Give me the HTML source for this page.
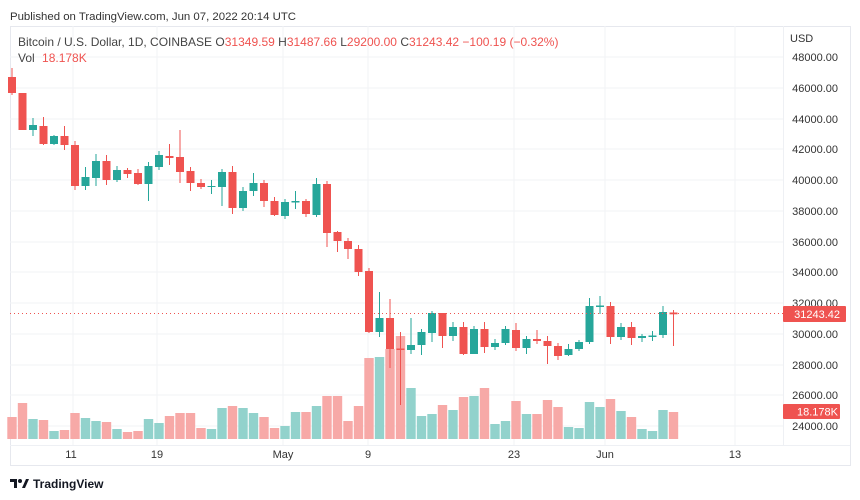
<!DOCTYPE html>
<html><head><meta charset="utf-8"><style>
body{margin:0;background:#fff;}
svg{display:block;font-family:"Liberation Sans",sans-serif;}
.r line{stroke:#ef5350;stroke-width:1}.r rect.b{fill:#ef5350}
.g line{stroke:#26a69a;stroke-width:1}.g rect.b{fill:#26a69a}
.r rect.v{fill:#f7a9a7}.g rect.v{fill:#92d2cc}
.pl{font-size:11px;fill:#333;text-anchor:end}
.tl{font-size:11px;fill:#333;text-anchor:middle}
</style></head><body>
<svg width="860" height="500" viewBox="0 0 860 500">
<rect width="860" height="500" fill="#fff"/>
<text x="10" y="20" font-size="11.4" fill="#333">Published on TradingView.com, Jun 07, 2022 20:14 UTC</text>
<rect x="10.5" y="26.5" width="840" height="439" fill="none" stroke="#e6e8ee"/>
<line x1="783.5" y1="26" x2="783.5" y2="446" stroke="#eef0f4"/>
<line x1="10" y1="445.5" x2="850" y2="445.5" stroke="#eef0f4"/>
<g stroke="#f2f3f6">
<line x1="10" x2="783" y1="57" y2="57"/><line x1="10" x2="783" y1="88" y2="88"/><line x1="10" x2="783" y1="119" y2="119"/><line x1="10" x2="783" y1="149" y2="149"/><line x1="10" x2="783" y1="180" y2="180"/><line x1="10" x2="783" y1="211" y2="211"/><line x1="10" x2="783" y1="242" y2="242"/><line x1="10" x2="783" y1="272" y2="272"/><line x1="10" x2="783" y1="303" y2="303"/><line x1="10" x2="783" y1="334" y2="334"/><line x1="10" x2="783" y1="365" y2="365"/><line x1="10" x2="783" y1="395" y2="395"/><line x1="10" x2="783" y1="426" y2="426"/>
<line y1="26" y2="445" x1="73" x2="73"/><line y1="26" y2="445" x1="157" x2="157"/><line y1="26" y2="445" x1="283" x2="283"/><line y1="26" y2="445" x1="368" x2="368"/><line y1="26" y2="445" x1="514" x2="514"/><line y1="26" y2="445" x1="605" x2="605"/><line y1="26" y2="445" x1="735" x2="735"/>
</g>
<text x="18" y="46" font-size="12" fill="#444">Bitcoin / U.S. Dollar, 1D, COINBASE <tspan>O</tspan><tspan fill="#ef5350">31349.59</tspan> <tspan>H</tspan><tspan fill="#ef5350">31487.66</tspan> <tspan>L</tspan><tspan fill="#ef5350">29200.00</tspan> <tspan>C</tspan><tspan fill="#ef5350">31243.42</tspan> <tspan fill="#ef5350">−100.19 (−0.32%)</tspan></text>
<text x="18" y="62" font-size="12" fill="#444">Vol <tspan dx="4" fill="#ef5350">18.178K</tspan></text>
<text x="790" y="42" font-size="11" fill="#333">USD</text>
<text class="pl" x="838" y="61">48000.00</text><text class="pl" x="838" y="92">46000.00</text><text class="pl" x="838" y="123">44000.00</text><text class="pl" x="838" y="153">42000.00</text><text class="pl" x="838" y="184">40000.00</text><text class="pl" x="838" y="215">38000.00</text><text class="pl" x="838" y="246">36000.00</text><text class="pl" x="838" y="276">34000.00</text><text class="pl" x="838" y="307">32000.00</text><text class="pl" x="838" y="338">30000.00</text><text class="pl" x="838" y="369">28000.00</text><text class="pl" x="838" y="399">26000.00</text><text class="pl" x="838" y="430">24000.00</text>
<text class="tl" x="71" y="458">11</text><text class="tl" x="157" y="458">19</text><text class="tl" x="283" y="458">May</text><text class="tl" x="368" y="458">9</text><text class="tl" x="514" y="458">23</text><text class="tl" x="605" y="458">Jun</text><text class="tl" x="735" y="458">13</text>
<g>
<g class="r" transform="translate(12,0)"><rect class="v" x="-4.7" width="9.4" y="417" height="22"/></g>
<g class="r" transform="translate(22.5,0)"><rect class="v" x="-4.7" width="9.4" y="403" height="36"/></g>
<g class="g" transform="translate(33,0)"><rect class="v" x="-4.7" width="9.4" y="419" height="20"/></g>
<g class="r" transform="translate(43.5,0)"><rect class="v" x="-4.7" width="9.4" y="420" height="19"/></g>
<g class="g" transform="translate(54,0)"><rect class="v" x="-4.7" width="9.4" y="431" height="8"/></g>
<g class="r" transform="translate(64.5,0)"><rect class="v" x="-4.7" width="9.4" y="430" height="9"/></g>
<g class="r" transform="translate(75,0)"><rect class="v" x="-4.7" width="9.4" y="413" height="26"/></g>
<g class="g" transform="translate(85.5,0)"><rect class="v" x="-4.7" width="9.4" y="418" height="21"/></g>
<g class="g" transform="translate(96,0)"><rect class="v" x="-4.7" width="9.4" y="421" height="18"/></g>
<g class="r" transform="translate(106.5,0)"><rect class="v" x="-4.7" width="9.4" y="422" height="17"/></g>
<g class="g" transform="translate(117,0)"><rect class="v" x="-4.7" width="9.4" y="429" height="10"/></g>
<g class="r" transform="translate(127.5,0)"><rect class="v" x="-4.7" width="9.4" y="432" height="7"/></g>
<g class="r" transform="translate(138,0)"><rect class="v" x="-4.7" width="9.4" y="431" height="8"/></g>
<g class="g" transform="translate(148.5,0)"><rect class="v" x="-4.7" width="9.4" y="419" height="20"/></g>
<g class="g" transform="translate(159,0)"><rect class="v" x="-4.7" width="9.4" y="423" height="16"/></g>
<g class="r" transform="translate(169.5,0)"><rect class="v" x="-4.7" width="9.4" y="416" height="23"/></g>
<g class="r" transform="translate(180,0)"><rect class="v" x="-4.7" width="9.4" y="413" height="26"/></g>
<g class="r" transform="translate(190.5,0)"><rect class="v" x="-4.7" width="9.4" y="413" height="26"/></g>
<g class="r" transform="translate(201,0)"><rect class="v" x="-4.7" width="9.4" y="428" height="11"/></g>
<g class="g" transform="translate(211.5,0)"><rect class="v" x="-4.7" width="9.4" y="429" height="10"/></g>
<g class="g" transform="translate(222,0)"><rect class="v" x="-4.7" width="9.4" y="408" height="31"/></g>
<g class="r" transform="translate(232.5,0)"><rect class="v" x="-4.7" width="9.4" y="406" height="33"/></g>
<g class="g" transform="translate(243,0)"><rect class="v" x="-4.7" width="9.4" y="408" height="31"/></g>
<g class="g" transform="translate(253.5,0)"><rect class="v" x="-4.7" width="9.4" y="413" height="26"/></g>
<g class="r" transform="translate(264,0)"><rect class="v" x="-4.7" width="9.4" y="417" height="22"/></g>
<g class="r" transform="translate(274.5,0)"><rect class="v" x="-4.7" width="9.4" y="428" height="11"/></g>
<g class="g" transform="translate(285,0)"><rect class="v" x="-4.7" width="9.4" y="426" height="13"/></g>
<g class="g" transform="translate(295.5,0)"><rect class="v" x="-4.7" width="9.4" y="412" height="27"/></g>
<g class="r" transform="translate(306,0)"><rect class="v" x="-4.7" width="9.4" y="412" height="27"/></g>
<g class="g" transform="translate(316.5,0)"><rect class="v" x="-4.7" width="9.4" y="406" height="33"/></g>
<g class="r" transform="translate(327,0)"><rect class="v" x="-4.7" width="9.4" y="396" height="43"/></g>
<g class="r" transform="translate(337.5,0)"><rect class="v" x="-4.7" width="9.4" y="396" height="43"/></g>
<g class="r" transform="translate(348,0)"><rect class="v" x="-4.7" width="9.4" y="421" height="18"/></g>
<g class="r" transform="translate(358.5,0)"><rect class="v" x="-4.7" width="9.4" y="406" height="33"/></g>
<g class="r" transform="translate(369,0)"><rect class="v" x="-4.7" width="9.4" y="358" height="81"/></g>
<g class="g" transform="translate(379.5,0)"><rect class="v" x="-4.7" width="9.4" y="357" height="82"/></g>
<g class="r" transform="translate(390,0)"><rect class="v" x="-4.7" width="9.4" y="349" height="90"/></g>
<g class="r" transform="translate(400.5,0)"><rect class="v" x="-4.7" width="9.4" y="336" height="103"/></g>
<g class="g" transform="translate(411,0)"><rect class="v" x="-4.7" width="9.4" y="388" height="51"/></g>
<g class="g" transform="translate(421.5,0)"><rect class="v" x="-4.7" width="9.4" y="416" height="23"/></g>
<g class="g" transform="translate(432,0)"><rect class="v" x="-4.7" width="9.4" y="414" height="25"/></g>
<g class="r" transform="translate(442.5,0)"><rect class="v" x="-4.7" width="9.4" y="405" height="34"/></g>
<g class="g" transform="translate(453,0)"><rect class="v" x="-4.7" width="9.4" y="410" height="29"/></g>
<g class="r" transform="translate(463.5,0)"><rect class="v" x="-4.7" width="9.4" y="397" height="42"/></g>
<g class="g" transform="translate(474,0)"><rect class="v" x="-4.7" width="9.4" y="396" height="43"/></g>
<g class="r" transform="translate(484.5,0)"><rect class="v" x="-4.7" width="9.4" y="388" height="51"/></g>
<g class="g" transform="translate(495,0)"><rect class="v" x="-4.7" width="9.4" y="424" height="15"/></g>
<g class="g" transform="translate(505.5,0)"><rect class="v" x="-4.7" width="9.4" y="421" height="18"/></g>
<g class="r" transform="translate(516,0)"><rect class="v" x="-4.7" width="9.4" y="401" height="38"/></g>
<g class="g" transform="translate(526.5,0)"><rect class="v" x="-4.7" width="9.4" y="414" height="25"/></g>
<g class="r" transform="translate(537,0)"><rect class="v" x="-4.7" width="9.4" y="414" height="25"/></g>
<g class="r" transform="translate(547.5,0)"><rect class="v" x="-4.7" width="9.4" y="400" height="39"/></g>
<g class="r" transform="translate(558,0)"><rect class="v" x="-4.7" width="9.4" y="407" height="32"/></g>
<g class="g" transform="translate(568.5,0)"><rect class="v" x="-4.7" width="9.4" y="427" height="12"/></g>
<g class="g" transform="translate(579,0)"><rect class="v" x="-4.7" width="9.4" y="428" height="11"/></g>
<g class="g" transform="translate(589.5,0)"><rect class="v" x="-4.7" width="9.4" y="402" height="37"/></g>
<g class="g" transform="translate(600,0)"><rect class="v" x="-4.7" width="9.4" y="407" height="32"/></g>
<g class="r" transform="translate(610.5,0)"><rect class="v" x="-4.7" width="9.4" y="399" height="40"/></g>
<g class="g" transform="translate(621,0)"><rect class="v" x="-4.7" width="9.4" y="411" height="28"/></g>
<g class="r" transform="translate(631.5,0)"><rect class="v" x="-4.7" width="9.4" y="417" height="22"/></g>
<g class="g" transform="translate(642,0)"><rect class="v" x="-4.7" width="9.4" y="429" height="10"/></g>
<g class="g" transform="translate(652.5,0)"><rect class="v" x="-4.7" width="9.4" y="431" height="8"/></g>
<g class="g" transform="translate(663,0)"><rect class="v" x="-4.7" width="9.4" y="410" height="29"/></g>
<g class="r" transform="translate(673.5,0)"><rect class="v" x="-4.7" width="9.4" y="412" height="27"/></g>
</g>
<g>
<g class="r" transform="translate(12,0)"><line x1="0" x2="0" y1="68" y2="95"/><rect class="b" x="-4" width="8" y="77" height="16"/></g>
<g class="r" transform="translate(22.5,0)"><line x1="0" x2="0" y1="93" y2="130"/><rect class="b" x="-4" width="8" y="93" height="37"/></g>
<g class="g" transform="translate(33,0)"><line x1="0" x2="0" y1="118" y2="136"/><rect class="b" x="-4" width="8" y="125" height="5"/></g>
<g class="r" transform="translate(43.5,0)"><line x1="0" x2="0" y1="117" y2="145"/><rect class="b" x="-4" width="8" y="126" height="18"/></g>
<g class="g" transform="translate(54,0)"><line x1="0" x2="0" y1="135" y2="145"/><rect class="b" x="-4" width="8" y="136" height="8"/></g>
<g class="r" transform="translate(64.5,0)"><line x1="0" x2="0" y1="126" y2="150"/><rect class="b" x="-4" width="8" y="136" height="9"/></g>
<g class="r" transform="translate(75,0)"><line x1="0" x2="0" y1="141" y2="190"/><rect class="b" x="-4" width="8" y="145" height="41"/></g>
<g class="g" transform="translate(85.5,0)"><line x1="0" x2="0" y1="167" y2="190"/><rect class="b" x="-4" width="8" y="177" height="9"/></g>
<g class="g" transform="translate(96,0)"><line x1="0" x2="0" y1="154" y2="186"/><rect class="b" x="-4" width="8" y="161" height="17"/></g>
<g class="r" transform="translate(106.5,0)"><line x1="0" x2="0" y1="155" y2="185"/><rect class="b" x="-4" width="8" y="161" height="19"/></g>
<g class="g" transform="translate(117,0)"><line x1="0" x2="0" y1="166" y2="182"/><rect class="b" x="-4" width="8" y="170" height="10"/></g>
<g class="r" transform="translate(127.5,0)"><line x1="0" x2="0" y1="168" y2="178"/><rect class="b" x="-4" width="8" y="170" height="4"/></g>
<g class="r" transform="translate(138,0)"><line x1="0" x2="0" y1="169" y2="185"/><rect class="b" x="-4" width="8" y="173" height="11"/></g>
<g class="g" transform="translate(148.5,0)"><line x1="0" x2="0" y1="162" y2="201"/><rect class="b" x="-4" width="8" y="166" height="18"/></g>
<g class="g" transform="translate(159,0)"><line x1="0" x2="0" y1="151" y2="170"/><rect class="b" x="-4" width="8" y="155" height="12"/></g>
<g class="r" transform="translate(169.5,0)"><line x1="0" x2="0" y1="144" y2="165"/><rect class="b" x="-4" width="8" y="156" height="2"/></g>
<g class="r" transform="translate(180,0)"><line x1="0" x2="0" y1="130" y2="183"/><rect class="b" x="-4" width="8" y="157" height="15"/></g>
<g class="r" transform="translate(190.5,0)"><line x1="0" x2="0" y1="167" y2="191"/><rect class="b" x="-4" width="8" y="171" height="12"/></g>
<g class="r" transform="translate(201,0)"><line x1="0" x2="0" y1="179" y2="189"/><rect class="b" x="-4" width="8" y="183" height="4"/></g>
<g class="g" transform="translate(211.5,0)"><line x1="0" x2="0" y1="180" y2="194"/><rect class="b" x="-4" width="8" y="186" height="1"/></g>
<g class="g" transform="translate(222,0)"><line x1="0" x2="0" y1="169" y2="206"/><rect class="b" x="-4" width="8" y="172" height="15"/></g>
<g class="r" transform="translate(232.5,0)"><line x1="0" x2="0" y1="166" y2="214"/><rect class="b" x="-4" width="8" y="172" height="36"/></g>
<g class="g" transform="translate(243,0)"><line x1="0" x2="0" y1="187" y2="211"/><rect class="b" x="-4" width="8" y="191" height="17"/></g>
<g class="g" transform="translate(253.5,0)"><line x1="0" x2="0" y1="173" y2="196"/><rect class="b" x="-4" width="8" y="183" height="8"/></g>
<g class="r" transform="translate(264,0)"><line x1="0" x2="0" y1="180" y2="207"/><rect class="b" x="-4" width="8" y="183" height="18"/></g>
<g class="r" transform="translate(274.5,0)"><line x1="0" x2="0" y1="197" y2="216"/><rect class="b" x="-4" width="8" y="201" height="14"/></g>
<g class="g" transform="translate(285,0)"><line x1="0" x2="0" y1="199" y2="219"/><rect class="b" x="-4" width="8" y="202" height="14"/></g>
<g class="g" transform="translate(295.5,0)"><line x1="0" x2="0" y1="191" y2="209"/><rect class="b" x="-4" width="8" y="201" height="1.5"/></g>
<g class="r" transform="translate(306,0)"><line x1="0" x2="0" y1="199" y2="217"/><rect class="b" x="-4" width="8" y="201" height="13"/></g>
<g class="g" transform="translate(316.5,0)"><line x1="0" x2="0" y1="178" y2="217"/><rect class="b" x="-4" width="8" y="184" height="31"/></g>
<g class="r" transform="translate(327,0)"><line x1="0" x2="0" y1="181" y2="247"/><rect class="b" x="-4" width="8" y="184" height="49"/></g>
<g class="r" transform="translate(337.5,0)"><line x1="0" x2="0" y1="231" y2="252"/><rect class="b" x="-4" width="8" y="232" height="9"/></g>
<g class="r" transform="translate(348,0)"><line x1="0" x2="0" y1="238" y2="259"/><rect class="b" x="-4" width="8" y="241" height="8"/></g>
<g class="r" transform="translate(358.5,0)"><line x1="0" x2="0" y1="245" y2="276"/><rect class="b" x="-4" width="8" y="249" height="23"/></g>
<g class="r" transform="translate(369,0)"><line x1="0" x2="0" y1="268" y2="333"/><rect class="b" x="-4" width="8" y="271" height="61"/></g>
<g class="g" transform="translate(379.5,0)"><line x1="0" x2="0" y1="292" y2="337"/><rect class="b" x="-4" width="8" y="318" height="14"/></g>
<g class="r" transform="translate(390,0)"><line x1="0" x2="0" y1="299" y2="368"/><rect class="b" x="-4" width="8" y="318" height="31"/></g>
<g class="r" transform="translate(400.5,0)"><line x1="0" x2="0" y1="332" y2="405"/><rect class="b" x="-4" width="8" y="348.5" height="1.5"/></g>
<g class="g" transform="translate(411,0)"><line x1="0" x2="0" y1="318" y2="354"/><rect class="b" x="-4" width="8" y="345" height="5"/></g>
<g class="g" transform="translate(421.5,0)"><line x1="0" x2="0" y1="329" y2="355"/><rect class="b" x="-4" width="8" y="332" height="13"/></g>
<g class="g" transform="translate(432,0)"><line x1="0" x2="0" y1="311" y2="342"/><rect class="b" x="-4" width="8" y="313" height="20"/></g>
<g class="r" transform="translate(442.5,0)"><line x1="0" x2="0" y1="313" y2="348"/><rect class="b" x="-4" width="8" y="313" height="23"/></g>
<g class="g" transform="translate(453,0)"><line x1="0" x2="0" y1="322" y2="341"/><rect class="b" x="-4" width="8" y="327" height="9"/></g>
<g class="r" transform="translate(463.5,0)"><line x1="0" x2="0" y1="322" y2="355"/><rect class="b" x="-4" width="8" y="327" height="27"/></g>
<g class="g" transform="translate(474,0)"><line x1="0" x2="0" y1="326" y2="354"/><rect class="b" x="-4" width="8" y="329" height="25"/></g>
<g class="r" transform="translate(484.5,0)"><line x1="0" x2="0" y1="322" y2="353"/><rect class="b" x="-4" width="8" y="329" height="18"/></g>
<g class="g" transform="translate(495,0)"><line x1="0" x2="0" y1="339" y2="350"/><rect class="b" x="-4" width="8" y="343" height="4"/></g>
<g class="g" transform="translate(505.5,0)"><line x1="0" x2="0" y1="326" y2="345"/><rect class="b" x="-4" width="8" y="329" height="14"/></g>
<g class="r" transform="translate(516,0)"><line x1="0" x2="0" y1="323" y2="351"/><rect class="b" x="-4" width="8" y="330" height="18"/></g>
<g class="g" transform="translate(526.5,0)"><line x1="0" x2="0" y1="336" y2="354"/><rect class="b" x="-4" width="8" y="339" height="9"/></g>
<g class="r" transform="translate(537,0)"><line x1="0" x2="0" y1="330" y2="344"/><rect class="b" x="-4" width="8" y="339" height="2"/></g>
<g class="r" transform="translate(547.5,0)"><line x1="0" x2="0" y1="336" y2="364"/><rect class="b" x="-4" width="8" y="341" height="5"/></g>
<g class="r" transform="translate(558,0)"><line x1="0" x2="0" y1="343" y2="360"/><rect class="b" x="-4" width="8" y="346" height="10"/></g>
<g class="g" transform="translate(568.5,0)"><line x1="0" x2="0" y1="344" y2="356"/><rect class="b" x="-4" width="8" y="349" height="6"/></g>
<g class="g" transform="translate(579,0)"><line x1="0" x2="0" y1="340" y2="351"/><rect class="b" x="-4" width="8" y="342" height="7"/></g>
<g class="g" transform="translate(589.5,0)"><line x1="0" x2="0" y1="298" y2="344"/><rect class="b" x="-4" width="8" y="306" height="36"/></g>
<g class="g" transform="translate(600,0)"><line x1="0" x2="0" y1="296" y2="314"/><rect class="b" x="-4" width="8" y="305.5" height="1.5"/></g>
<g class="r" transform="translate(610.5,0)"><line x1="0" x2="0" y1="302" y2="344"/><rect class="b" x="-4" width="8" y="306" height="31"/></g>
<g class="g" transform="translate(621,0)"><line x1="0" x2="0" y1="323" y2="340"/><rect class="b" x="-4" width="8" y="327" height="10"/></g>
<g class="r" transform="translate(631.5,0)"><line x1="0" x2="0" y1="322" y2="345"/><rect class="b" x="-4" width="8" y="327" height="11"/></g>
<g class="g" transform="translate(642,0)"><line x1="0" x2="0" y1="334" y2="342"/><rect class="b" x="-4" width="8" y="336" height="2"/></g>
<g class="g" transform="translate(652.5,0)"><line x1="0" x2="0" y1="331" y2="341"/><rect class="b" x="-4" width="8" y="335.5" height="1.5"/></g>
<g class="g" transform="translate(663,0)"><line x1="0" x2="0" y1="306" y2="338"/><rect class="b" x="-4" width="8" y="312" height="23"/></g>
<g class="r" transform="translate(673.5,0)"><line x1="0" x2="0" y1="310" y2="346"/><rect class="b" x="-4" width="8" y="312.5" height="1.8"/></g>
</g>
<line x1="10" y1="313.5" x2="783" y2="313.5" stroke="#ef5350" stroke-width="1" stroke-dasharray="1,3"/>
<rect x="783" y="306" width="63" height="16" fill="#ef5350" rx="1"/>
<text x="840" y="318" font-size="11" fill="#fff" text-anchor="end">31243.42</text>
<rect x="783" y="404" width="57" height="15" fill="#ef5350" rx="1"/>
<text x="838" y="415.5" font-size="11" fill="#fff" text-anchor="end">18.178K</text>
<g transform="translate(10,477)">
<path d="M0 2h7v9h-3v-6h-4z" fill="#131722"/><circle cx="10" cy="4" r="2" fill="#131722"/><path d="M12 11l4-9h3l-4 9z" fill="#131722"/>
</g>
<text x="33" y="488" font-size="12" fill="#131722" font-weight="bold">TradingView</text>
</svg>
</body></html>
